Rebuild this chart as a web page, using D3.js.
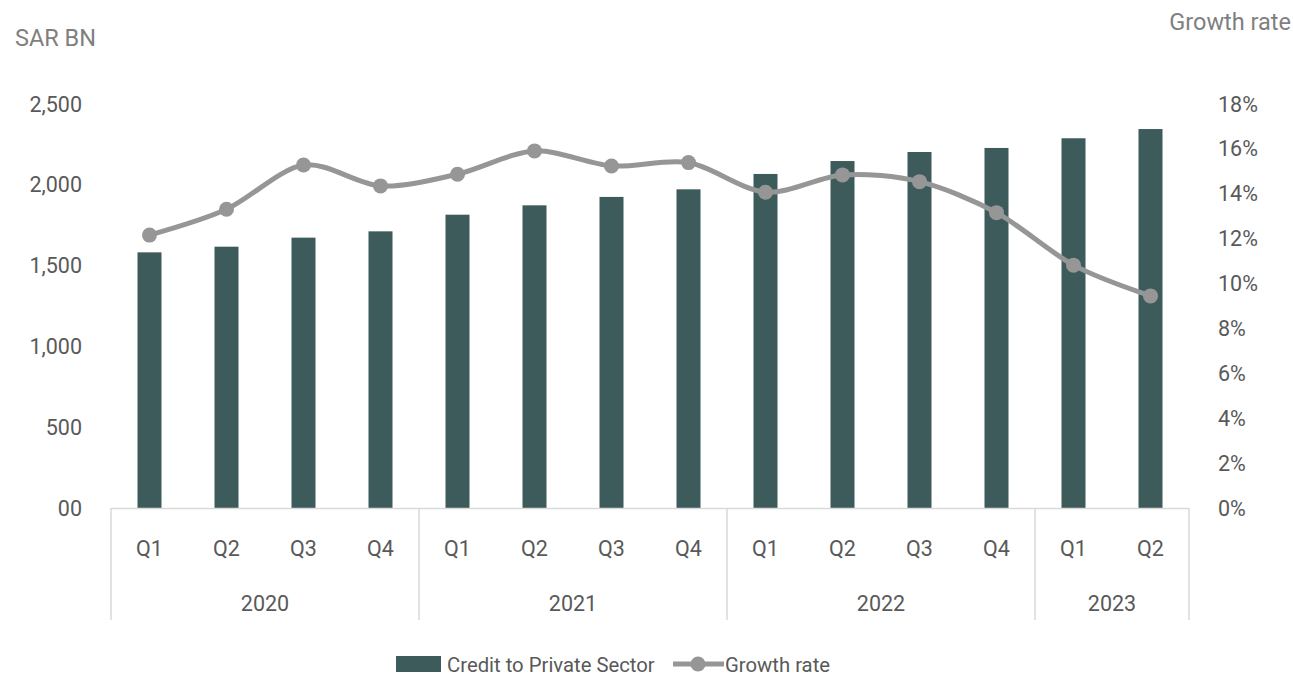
<!DOCTYPE html>
<html><head><meta charset="utf-8">
<script src="https://cdn.jsdelivr.net/npm/d3@7"></script>
<style>
html,body{margin:0;padding:0;background:#fff;}
text{font-family:Roboto, "Noto Sans", sans-serif;fill:#595959;}
</style></head>
<body><svg id="chart" width="1293" height="676"></svg>
<script>
const years = ["2020","2021","2022","2023"];
const quarters = ["Q1","Q2","Q3","Q4","Q1","Q2","Q3","Q4","Q1","Q2","Q3","Q4","Q1","Q2"];
const yearOf = [0,0,0,0,1,1,1,1,2,2,2,2,3,3];
const credit = [1582,1617,1673,1712,1815,1873,1925,1972,2067,2147,2203,2228,2288,2345];
const growth = [12.16,13.31,15.28,14.35,14.87,15.91,15.24,15.39,14.07,14.84,14.54,13.16,10.82,9.45];
const leftTicks = [0,500,1000,1500,2000,2500];
const leftTickLabels = ["00","500","1,000","1,500","2,000","2,500"];
const rightTicks = [0,2,4,6,8,10,12,14,16,18];

const svg = d3.select("#chart");
const L = 111, R = 1189, T = 104, B = 508;
const FS = 21.5, FL = 20.3, FT = 23.5;
const barColor = "#3d5b5b", lineColor = "#969696", axisColor = "#d9d9d9";

const idx = d3.range(quarters.length);
const x = d3.scaleBand().domain(idx).range([L,R]).paddingInner(0).paddingOuter(0);
const yL = d3.scaleLinear().domain([0,2500]).range([B,T]);
const yR = d3.scaleLinear().domain([0,18]).range([B,T]);

// bars
const bw = 24;
svg.append("g").selectAll("rect").data(idx).join("rect")
  .attr("x", i => x(i) + x.bandwidth()/2 - bw/2)
  .attr("y", i => yL(credit[i]))
  .attr("width", bw)
  .attr("height", i => B - yL(credit[i]))
  .attr("fill", barColor);

// x axis baseline
svg.append("line").attr("x1",L).attr("x2",R).attr("y1",B+0.5).attr("y2",B+0.5)
  .attr("stroke",axisColor).attr("stroke-width",1.5);

// year separators
const yearBounds = [];
years.forEach((yr,k) => {
  const members = idx.filter(i => yearOf[i] === k);
  yearBounds.push({yr, x0: x(members[0]), x1: x(members[members.length-1]) + x.bandwidth()});
});
const seps = [L, ...yearBounds.map(d => d.x1)];
svg.append("g").selectAll("line").data(seps).join("line")
  .attr("x1", d => d).attr("x2", d => d).attr("y1", B).attr("y2", 620)
  .attr("stroke", axisColor).attr("stroke-width",1.5);

// quarter labels
svg.append("g").selectAll("text").data(idx).join("text")
  .attr("x", i => x(i) + x.bandwidth()/2).attr("y", 548)
  .attr("text-anchor","middle").attr("dominant-baseline","central")
  .attr("font-size",FS).text(i => quarters[i]);
// year labels
svg.append("g").selectAll("text").data(yearBounds).join("text")
  .attr("x", d => (d.x0+d.x1)/2).attr("y", 603)
  .attr("text-anchor","middle").attr("dominant-baseline","central")
  .attr("font-size",FS).text(d => d.yr);

// left axis labels
svg.append("g").selectAll("text").data(leftTicks).join("text")
  .attr("x", 82).attr("y", d => yL(d))
  .attr("text-anchor","end").attr("dominant-baseline","central")
  .attr("font-size",FS).text((d,i) => leftTickLabels[i]);
// right axis labels
svg.append("g").selectAll("text").data(rightTicks).join("text")
  .attr("x", 1218).attr("y", d => yR(d))
  .attr("text-anchor","start").attr("dominant-baseline","central")
  .attr("font-size",FS).text(d => d + "%");

// axis titles
svg.append("text").attr("x",15).attr("y",38).attr("dominant-baseline","central")
  .attr("font-size",FT).style("fill","#7f7f7f").text("SAR BN");
svg.append("text").attr("x",1291).attr("y",22).attr("dominant-baseline","central")
  .attr("text-anchor","end").attr("font-size",FT).style("fill","#7f7f7f").text("Growth rate");

// growth line
const line = d3.line()
  .x(i => x(i) + x.bandwidth()/2)
  .y(i => yR(growth[i]))
  .curve(d3.curveCardinal.tension(0.1));
svg.append("path").datum(idx).attr("d", line)
  .attr("fill","none").attr("stroke",lineColor).attr("stroke-width",5).attr("stroke-linecap","round");
svg.append("g").selectAll("circle").data(idx).join("circle")
  .attr("cx", i => x(i) + x.bandwidth()/2).attr("cy", i => yR(growth[i]))
  .attr("r", 7.5).attr("fill", lineColor);

// legend
const lg = svg.append("g");
lg.append("rect").attr("x",396).attr("y",656).attr("width",45).attr("height",16).attr("fill",barColor);
lg.append("text").attr("x",447).attr("y",665).attr("dominant-baseline","central")
  .attr("font-size",FL).text("Credit to Private Sector");
lg.append("line").attr("x1",673).attr("x2",724).attr("y1",664).attr("y2",664)
  .attr("stroke",lineColor).attr("stroke-width",5);
lg.append("circle").attr("cx",698).attr("cy",664).attr("r",7.5).attr("fill",lineColor);
lg.append("text").attr("x",725).attr("y",665).attr("dominant-baseline","central")
  .attr("font-size",FL).text("Growth rate");
</script></body></html>
